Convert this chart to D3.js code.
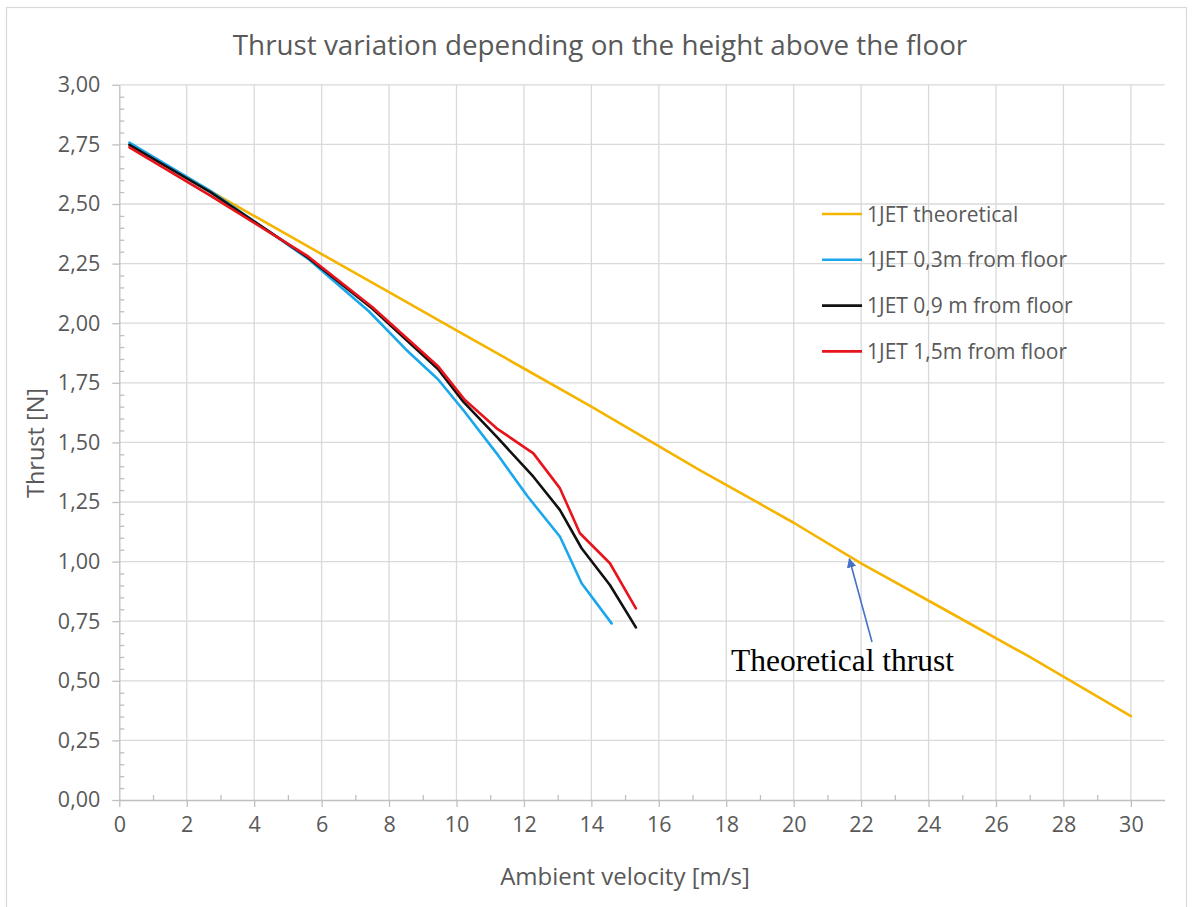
<!DOCTYPE html>
<html>
<head>
<meta charset="utf-8">
<script src="https://cdn.jsdelivr.net/npm/d3@7"></script>
<style>
  html, body { margin: 0; padding: 0; background: #ffffff; }
  svg { display: block; }
  text { font-family: "Open Sans", "Noto Sans", sans-serif; fill: #595959; }
</style>
</head>
<body>
<svg id="chart" width="1192" height="907"></svg>
<script>
// Ambient velocity [m/s] and thrust [N] for each series
const theoX = [0.3, 3, 6, 8, 10, 12, 14, 17.2, 20, 22, 24.5, 27, 30];
const theoY = [2.75, 2.53, 2.29, 2.13, 1.97, 1.81, 1.65, 1.385, 1.163, 0.993, 0.797, 0.600, 0.352];

const jet03X = [0.3, 2.7, 5.6, 7.4, 8.5, 9.45, 10.2, 11.19, 12.1, 13.07, 13.71, 14.6];
const jet03Y = [2.757, 2.555, 2.27, 2.05, 1.89, 1.765, 1.636, 1.454, 1.275, 1.104, 0.909, 0.741];

const jet09X = [0.3, 2.7, 5.6, 7.5, 9.45, 10.2, 11.19, 12.28, 13.07, 13.71, 14.55, 15.32];
const jet09Y = [2.748, 2.55, 2.275, 2.062, 1.808, 1.671, 1.524, 1.356, 1.216, 1.056, 0.902, 0.724];

const jet15X = [0.3, 2.7, 5.6, 7.5, 9.46, 10.25, 11.19, 12.28, 13.07, 13.66, 14.55, 15.32];
const jet15Y = [2.738, 2.535, 2.28, 2.068, 1.818, 1.678, 1.559, 1.454, 1.307, 1.119, 0.993, 0.804];

const seriesNames = ["1JET theoretical", "1JET 0,3m from floor", "1JET 0,9 m from floor", "1JET 1,5m from floor"];
const seriesColors = ["#f4b400", "#1aa7ec", "#111111", "#e8141c"];

const xTicks = [0, 2, 4, 6, 8, 10, 12, 14, 16, 18, 20, 22, 24, 26, 28, 30];
const yTicks = [0, 0.25, 0.5, 0.75, 1, 1.25, 1.5, 1.75, 2, 2.25, 2.5, 2.75, 3];

const title = "Thrust variation depending on the height above the floor";
const xTitle = "Ambient velocity [m/s]";
const yTitle = "Thrust [N]";
const noteText = "Theoretical thrust";
const notePoint = [21.65, 1.02];

const svg = d3.select("#chart");
const plot = { left: 119.3, right: 1164.6, top: 84.8, bottom: 800 };

const x = d3.scaleLinear().domain([0, 31]).range([plot.left, plot.right]);
const y = d3.scaleLinear().domain([0, 3]).range([plot.bottom, plot.top]);

// outer chart frame
svg.append("rect")
  .attr("x", 6.5).attr("y", 7.5).attr("width", 1180).attr("height", 905)
  .attr("fill", "#ffffff").attr("stroke", "#d9d9d9").attr("stroke-width", 1.2);

// gridlines
const grid = svg.append("g").attr("stroke", "#d9d9d9").attr("stroke-width", 1.3);
grid.selectAll("line.v").data(xTicks.filter(d => d > 0)).join("line")
  .attr("x1", d => x(d)).attr("x2", d => x(d))
  .attr("y1", y(3)).attr("y2", y(0));
grid.selectAll("line.h").data(yTicks.filter(d => d > 0)).join("line")
  .attr("x1", x(0)).attr("x2", x(31))
  .attr("y1", d => y(d)).attr("y2", d => y(d));

// axes: major ticks outside, minor ticks inside
const fmt = d3.formatLocale({ decimal: ",", thousands: ".", grouping: [3], currency: ["", ""] });
const yFmt = fmt.format(".2f");

const xAxis = svg.append("g").attr("transform", `translate(0,${y(0)})`)
  .call(d3.axisBottom(x).tickValues(xTicks).tickSize(7).tickSizeOuter(0).tickPadding(10).tickFormat(d3.format("d")));
svg.append("g").attr("transform", `translate(0,${y(0)})`)
  .call(d3.axisTop(x).tickValues(d3.range(1, 31, 2)).tickSize(5).tickSizeOuter(0).tickFormat(""))
  .call(g => g.select(".domain").remove());

const yAxis = svg.append("g").attr("transform", `translate(${x(0)},0)`)
  .call(d3.axisLeft(y).tickValues(yTicks).tickSize(7).tickSizeOuter(0).tickPadding(12).tickFormat(yFmt));
svg.append("g").attr("transform", `translate(${x(0)},0)`)
  .call(d3.axisRight(y).tickValues(d3.range(0, 3.0001, 0.05).filter(v => Math.abs(v / 0.25 - Math.round(v / 0.25)) > 1e-6)).tickSize(5).tickSizeOuter(0).tickFormat(""))
  .call(g => g.select(".domain").remove());

svg.selectAll(".domain, .tick line").attr("stroke", "#bfbfbf").attr("stroke-width", 1.3);
xAxis.selectAll(".tick text").attr("font-size", 21.5).attr("fill", "#595959").attr("font-family", "Open Sans");
yAxis.selectAll(".tick text").attr("font-size", 21.5).attr("fill", "#595959").attr("font-family", "Open Sans");

// series lines
const line = d3.line().x(d => x(d[0])).y(d => y(d[1]));
const series = [
  d3.zip(theoX, theoY),
  d3.zip(jet03X, jet03Y),
  d3.zip(jet09X, jet09Y),
  d3.zip(jet15X, jet15Y)
];
svg.append("g").selectAll("path").data(series).join("path")
  .attr("d", line)
  .attr("fill", "none")
  .attr("stroke", (d, i) => seriesColors[i])
  .attr("stroke-width", 2.6)
  .attr("stroke-linejoin", "round")
  .attr("stroke-linecap", "round");

// title
svg.append("text").attr("x", 600).attr("y", 55)
  .attr("text-anchor", "middle").attr("font-size", 27.8).text(title);

// axis titles
svg.append("text").attr("x", 625).attr("y", 885)
  .attr("text-anchor", "middle").attr("font-size", 24).text(xTitle);
svg.append("text").attr("transform", "translate(44,443) rotate(-90)")
  .attr("text-anchor", "middle").attr("font-size", 23.5).text(yTitle);

// legend
const legend = svg.append("g").attr("transform", "translate(822,214)");
const rows = legend.selectAll("g").data(seriesNames).join("g")
  .attr("transform", (d, i) => `translate(0,${i * 45.8})`);
rows.append("line").attr("x1", 0).attr("x2", 40).attr("y1", 0).attr("y2", 0)
  .attr("stroke", (d, i) => seriesColors[i]).attr("stroke-width", 2.6);
rows.append("text").attr("x", 45).attr("y", 7.5).attr("font-size", 21).text(d => d);

// annotation arrow and label
const defs = svg.append("defs");
defs.append("marker").attr("id", "arrowHead")
  .attr("viewBox", "0 0 10 10").attr("refX", 9).attr("refY", 5)
  .attr("markerWidth", 6).attr("markerHeight", 6).attr("orient", "auto")
  .append("path").attr("d", "M0,0 L10,5 L0,10 z").attr("fill", "#4472c4");
svg.append("line")
  .attr("x1", 872).attr("y1", 642)
  .attr("x2", x(notePoint[0])).attr("y2", y(notePoint[1]) + 2)
  .attr("stroke", "#4472c4").attr("stroke-width", 1.6)
  .attr("marker-end", "url(#arrowHead)");
svg.append("text").attr("x", 731).attr("y", 671)
  .style("font-family", "'Liberation Serif', 'Times New Roman', serif")
  .style("fill", "#000000")
  .attr("font-size", 31.5).text(noteText);
</script>
</body>
</html>
